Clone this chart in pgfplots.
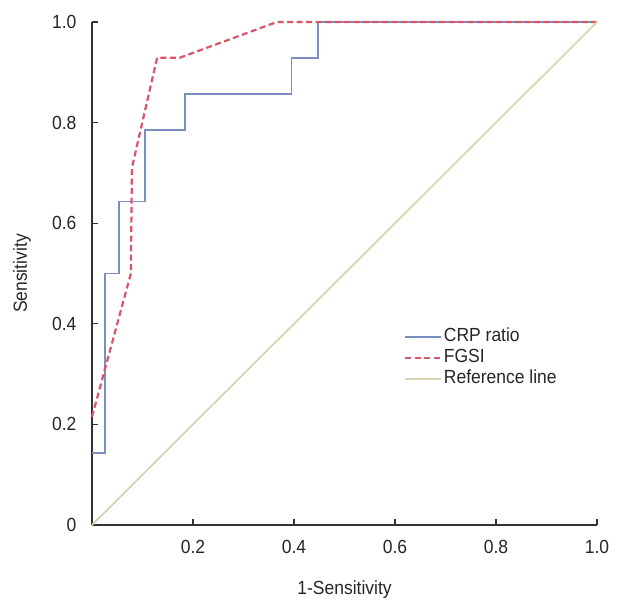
\documentclass[border=0pt]{standalone}
\usepackage{fontspec}
\setmainfont[FakeStretch=0.92]{Liberation Sans}
\usepackage{pgfplots}
\pgfplotsset{compat=1.18}
\definecolor{crpblue}{RGB}{122,142,192}
\definecolor{fgsired}{RGB}{218,84,104}
\definecolor{refbeige}{RGB}{218,212,178}
\definecolor{axgray}{RGB}{50,50,50}
\begin{document}
\begin{tikzpicture}
\begin{axis}[
  name=main,
  scale only axis,
  width=505pt, height=503pt,
  xmin=0, xmax=1, ymin=0, ymax=1,
  axis lines=left,
  axis line style={axgray, line width=1.4pt, -},
  every tick/.style={axgray, line width=1.2pt},
  tick align=inside,
  major tick length=6pt,
  xtick={0.2,0.4,0.6,0.8,1.0},
  xticklabels={0.2,0.4,0.6,0.8,1.0},
  ytick={0,0.2,0.4,0.6,0.8,1.0},
  yticklabels={0,0.2,0.4,0.6,0.8,1.0},
  /pgf/number format/assume math mode=true,
  tick label style={font=\fontsize{19}{23}\selectfont, text=black!85},
  xticklabel style={yshift=-12pt},
  yticklabel style={xshift=-12pt},
  xlabel={1-Sensitivity},
  ylabel={Sensitivity},
  every axis x label/.style={at={(axis description cs:0.5,-0.1292)}, anchor=center,
    font=\fontsize{19}{23}\selectfont, text=black!85},
  every axis y label/.style={at={(axis description cs:-0.1386,0.5)}, anchor=center, rotate=90,
    font=\fontsize{19}{23}\selectfont, text=black!85},
  clip=false,
  legend style={at={(axis cs:0.612,0.399)}, anchor=north west, draw=none, fill=none,
    font=\fontsize{19}{21}\selectfont, text=black!85, row sep=0pt,
    nodes={inner sep=1.5pt, text height=14pt, text depth=4pt}},
  legend cell align=left,
  legend image code/.code={\draw[#1] (0pt,0pt) -- (28pt,0pt); \path (0pt,0pt) -- (36pt,0pt);},
]
\addplot[crpblue, line width=1.8pt] coordinates {
  (0,0.143) (0.026,0.143) (0.026,0.5) (0.053,0.5) (0.053,0.643) (0.105,0.643)
  (0.105,0.786) (0.184,0.786) (0.184,0.857) (0.395,0.857) (0.395,0.929)
  (0.447,0.929) (0.447,1.0) (1.0,1.0)
};
\addlegendentry{CRP ratio}
\addplot[fgsired, line width=2.2pt, dash pattern=on 6pt off 3.5pt] coordinates {
  (0,0.215) (0.077,0.5) (0.079,0.71) (0.129,0.929) (0.174,0.929) (0.366,1.0) (1.0,1.0)
};
\addlegendentry{FGSI}
\addplot[refbeige, line width=1.8pt] coordinates {(0,0) (1,1)};
\addlegendentry{Reference line}
\end{axis}
\pgfresetboundingbox
\path[use as bounding box] (main.south west) ++(-92pt,-82pt) rectangle ++(622pt,607pt);
\end{tikzpicture}
\end{document}
